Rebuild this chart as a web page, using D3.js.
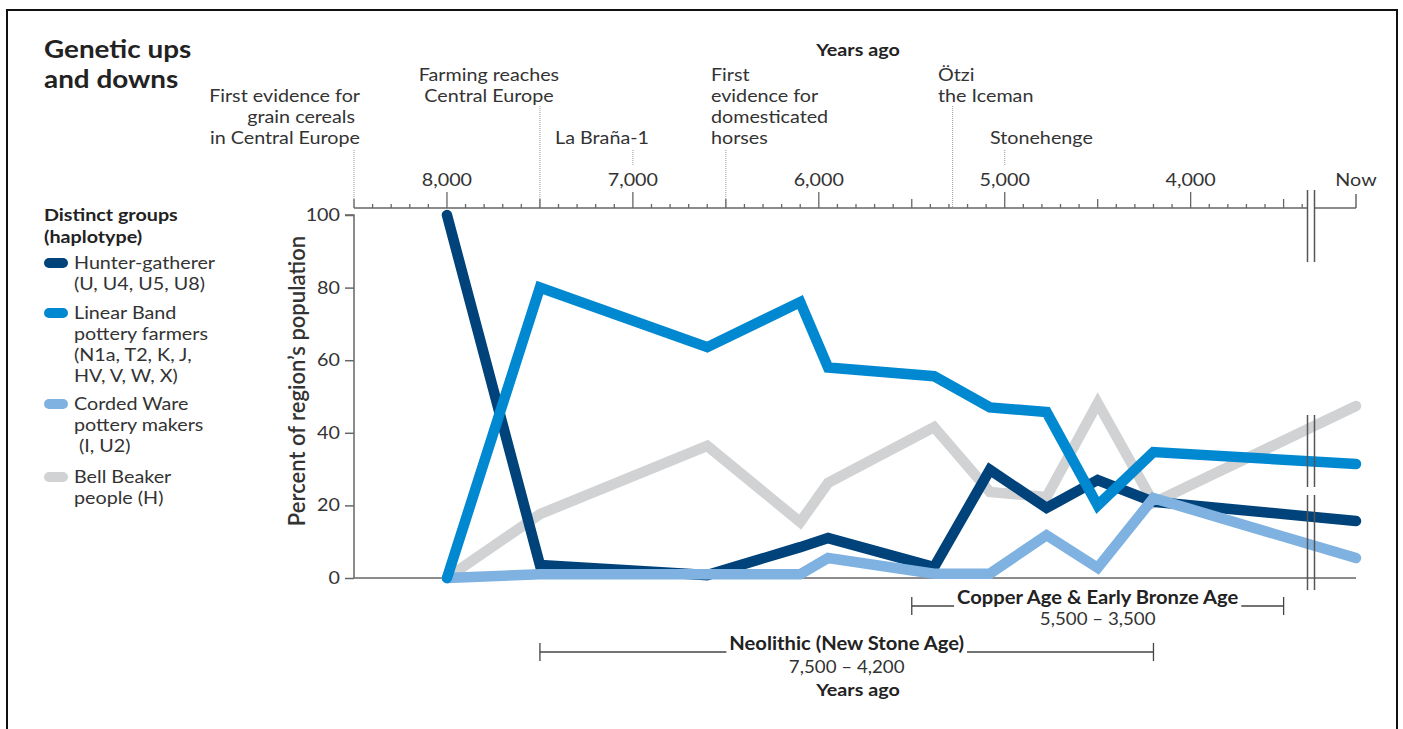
<!DOCTYPE html>
<html><head><meta charset="utf-8">
<script src="https://cdn.jsdelivr.net/npm/d3@7"></script>
<style>
body{margin:0;background:#fff;}
text{font-family:Lato,"Open Sans",sans-serif;}
</style>
</head><body>
<svg id="c" width="1403" height="729"></svg>
<script>
// ---------- DATA ----------
const yearsAgo = [8000, 7500, 6600, 6100, 5950, 5380, 5080, 4775, 4500, 4200, 0]; // 0 = Now
const hunterGatherer = [100, 3.6, 0.8, 8.5, 11, 3, 29.8, 19.3, 27, 21, 15.7];
const linearBand     = [0, 80, 63.6, 76, 58, 55.6, 47, 45.7, 20, 34.7, 31.4];
const cordedWare     = [0, 1, 1, 1, 5.5, 1.2, 1.2, 11.8, 2.8, 22, 5.5];
const bellBeaker     = [0, 17.6, 36.4, 15.4, 26.2, 41.6, 23.7, 22.3, 48.2, 20.7, 47.4];

const seriesKeys   = ["bellBeaker", "hunterGatherer", "cordedWare", "linearBand"]; // draw order
const seriesColors = {hunterGatherer:"#00427a", linearBand:"#0088d1", cordedWare:"#7fb2e1", bellBeaker:"#d1d2d4"};
const seriesValues = {hunterGatherer, linearBand, cordedWare, bellBeaker};

const legendItems = [
  {key:"hunterGatherer", lines:["Hunter-gatherer","(U, U4, U5, U8)"]},
  {key:"linearBand", lines:["Linear Band","pottery farmers","(N1a, T2, K, J,","HV, V, W, X)"]},
  {key:"cordedWare", lines:["Corded Ware","pottery makers","\u00a0(I, U2)"]},
  {key:"bellBeaker", lines:["Bell Beaker","people (H)"]}
];

const yTicks = [0, 20, 40, 60, 80, 100];
const xTickYears  = [8000, 7000, 6000, 5000, 4000];
const xTickLabels = ["8,000", "7,000", "6,000", "5,000", "4,000"];

const events = [
  {year:8500, lines:["First evidence for","grain cereals","in Central Europe"], anchor:"end"},
  {year:7500, lines:["Farming reaches","Central Europe"], anchor:"middle"},
  {year:7000, lines:["La Braña-1"], anchor:"middle"},
  {year:6500, lines:["First","evidence for","domesticated","horses"], anchor:"start"},
  {year:5280, lines:["Ötzi","the Iceman"], anchor:"start"},
  {year:5000, lines:["Stonehenge"], anchor:"start"}
];

const periods = [
  {name:"Copper Age & Early Bronze Age", range:"5,500 – 3,500", from:5500, to:3500},
  {name:"Neolithic (New Stone Age)", range:"7,500 – 4,200", from:7500, to:4200}
];

// ---------- LAYOUT ----------
const svg = d3.select("#c");
const plotTop = 215, plotBottom = 578, topAxisY = 208;
const x = d3.scaleLinear().domain([8500, 3350, 0]).range([354, 1311.5, 1356]);
const y = d3.scaleLinear().domain([0, 100]).range([plotBottom, plotTop]);
const axisCol = "#666", textCol = "#333";
const STRETCH = 1.16;
function stretch(sel, f) {
  sel.each(function(){
    const w = this.getComputedTextLength();
    d3.select(this).attr("textLength", w*(f||STRETCH)).attr("lengthAdjust","spacingAndGlyphs");
  });
  return sel;
}

// frame
svg.append("rect").attr("x",7).attr("y",10).attr("width",1390).attr("height",730)
  .attr("fill","none").attr("stroke","#111").attr("stroke-width",2);

// title
svg.append("text").attr("x",44).attr("y",50).attr("dy","0.35em").attr("font-size",24).attr("font-weight",700).attr("fill","#222").text("Genetic ups");
svg.append("text").attr("x",44).attr("y",80).attr("dy","0.35em").attr("font-size",24).attr("font-weight",700).attr("fill","#222").text("and downs");

// top "Years ago"
svg.append("text").attr("x",858).attr("y",50).attr("dy","0.35em").attr("text-anchor","middle")
  .attr("font-size",17).attr("font-weight",700).attr("fill","#222").text("Years ago");

// event annotations
const evLayout = {
  8500:{tx:360, ty:96, dash:[150, topAxisY]},
  7500:{tx:489, ty:75, dash:[106, topAxisY]},
  7000:{tx:602, ty:138, dash:[150, 166]},
  6500:{tx:711, ty:75, dash:[150, topAxisY]},
  5280:{tx:938, ty:75, dash:[106, topAxisY]},
  5000:{tx:990, ty:138, dash:[150, 166]}
};
events.forEach(ev => {
  const L = evLayout[ev.year];
  const g = svg.append("g");
  ev.lines.forEach((ln,i) => {
    g.append("text").attr("x", L.tx - (ev.year===8500 && i===1 ? 5 : 0)).attr("y", L.ty + i*21).attr("dy","0.35em")
      .attr("text-anchor", ev.anchor).attr("font-size",17).attr("fill",textCol).text(ln);
  });
  g.append("line").attr("x1",x(ev.year)).attr("x2",x(ev.year)).attr("y1",L.dash[0]).attr("y2",L.dash[1])
    .attr("stroke","#999").attr("stroke-width",1).attr("stroke-dasharray","1,1");
});

// top axis
const breakX1 = 1307.5, breakX2 = 1314.5;
svg.append("line").attr("x1",x(8500)).attr("x2",breakX1).attr("y1",topAxisY).attr("y2",topAxisY).attr("stroke",axisCol).attr("stroke-width",1.5);
svg.append("line").attr("x1",breakX2).attr("x2",x(0)).attr("y1",topAxisY).attr("y2",topAxisY).attr("stroke",axisCol).attr("stroke-width",1.5);
d3.range(8500, 3399, -100).forEach(yr => {
  const len = yr % 1000 === 0 ? 16 : (yr % 500 === 0 ? 9 : 4);
  svg.append("line").attr("x1",x(yr)).attr("x2",x(yr)).attr("y1",topAxisY).attr("y2",topAxisY-len)
    .attr("stroke",axisCol).attr("stroke-width",1.3);
});
xTickYears.forEach((yr,i) => {
  svg.append("text").attr("x",x(yr)).attr("y",180).attr("dy","0.35em").attr("text-anchor","middle")
    .attr("font-size",17).attr("fill",textCol).text(xTickLabels[i]);
});
svg.append("line").attr("x1",x(0)).attr("x2",x(0)).attr("y1",topAxisY).attr("y2",topAxisY-14).attr("stroke",axisCol).attr("stroke-width",1.5);
svg.append("text").attr("x",x(0)).attr("y",180).attr("dy","0.35em").attr("text-anchor","middle")
  .attr("font-size",17).attr("fill",textCol).text("Now");

// y axis
const yAxis = svg.append("g").attr("transform",`translate(${x(8500)},0)`)
  .call(d3.axisLeft(y).tickValues(yTicks).tickSize(9).tickPadding(5).tickFormat(d3.format("d")));
yAxis.select(".domain").attr("stroke",axisCol).attr("stroke-width",1.5).attr("d",`M-9,${plotTop}H0V${plotBottom}`);
yAxis.selectAll(".tick line").attr("stroke",axisCol).attr("stroke-width",1.5);
yAxis.selectAll(".tick text").attr("font-size",17).attr("fill",textCol).attr("font-family","Lato");
svg.append("text").attr("class","norot").attr("transform",`translate(297,381) rotate(-90)`).attr("text-anchor","middle")
  .attr("dy","0.35em").attr("font-size",22).attr("font-weight",600).attr("fill","#333").text("Percent of region\u2019s population");

// bottom axis line
svg.append("line").attr("x1",x(8500)).attr("x2",x(0)).attr("y1",plotBottom).attr("y2",plotBottom).attr("stroke",axisCol).attr("stroke-width",1.5);

// series
const line = d3.line().x((d,i) => x(yearsAgo[i])).y(d => y(d));
seriesKeys.forEach(k => {
  svg.append("path").datum(seriesValues[k]).attr("d", line).attr("fill","none")
    .attr("stroke", seriesColors[k]).attr("stroke-width",10.5)
    .attr("stroke-linecap","round").attr("stroke-linejoin","miter").attr("stroke-miterlimit",3);
});

// axis break marks
[[190,262],[415,487],[495,590]].forEach(([a,b]) => {
  [breakX1, breakX2].forEach(bx => {
    svg.append("line").attr("x1",bx).attr("x2",bx).attr("y1",a).attr("y2",b).attr("stroke","#555").attr("stroke-width",1.5);
  });
});

// legend
svg.append("text").attr("x",44).attr("y",215).attr("dy","0.35em").attr("font-size",17).attr("font-weight",700).attr("fill","#222").text("Distinct groups");
svg.append("text").attr("x",44).attr("y",237).attr("dy","0.35em").attr("font-size",17).attr("font-weight",700).attr("fill","#222").text("(haplotype)");
const legendTops = [263, 313, 404, 477];
legendItems.forEach((it,i) => {
  const ty = legendTops[i];
  svg.append("rect").attr("x",44).attr("y",ty-5).attr("width",24).attr("height",10).attr("rx",5)
    .attr("fill",seriesColors[it.key]);
  it.lines.forEach((ln,j) => {
    svg.append("text").attr("x",74).attr("y",ty + j*21).attr("dy","0.35em").attr("font-size",17).attr("fill",textCol).text(ln);
  });
});

// Years ago (bottom)
svg.append("text").attr("x",858).attr("y",690).attr("dy","0.35em").attr("text-anchor","middle")
  .attr("font-size",17).attr("font-weight",700).attr("fill","#222").text("Years ago");

// stretch all horizontal texts to match the reference proportions
stretch(svg.selectAll("text:not(.norot)"));

// period brackets
const periodLayout = [{ly:606, ty:598, ry:619},{ly:652, ty:644, ry:667}];
periods.forEach((p,i) => {
  const L = periodLayout[i];
  const x1 = x(p.from), x2 = x(p.to), cx = (x1+x2)/2;
  svg.append("line").attr("x1",x1).attr("x2",x2).attr("y1",L.ly).attr("y2",L.ly).attr("stroke","#444").attr("stroke-width",1.3);
  [x1,x2].forEach(xx => svg.append("line").attr("x1",xx).attr("x2",xx).attr("y1",L.ly-9).attr("y2",L.ly+9).attr("stroke","#444").attr("stroke-width",1.3));
  const t = svg.append("text").attr("x",cx).attr("y",L.ty).attr("dy","0.35em").attr("text-anchor","middle")
    .attr("font-size",18).attr("font-weight",700).attr("fill","#222").text(p.name);
  stretch(t, 1.12);
  const w = +t.attr("textLength");
  const bb = t.node().getBBox();
  svg.insert("rect", () => t.node()).attr("x",cx - w/2 - 3).attr("y",bb.y).attr("width",w+6).attr("height",bb.height).attr("fill","#fff");
  const r = svg.append("text").attr("x",cx).attr("y",L.ry).attr("dy","0.35em").attr("text-anchor","middle")
    .attr("font-size",17).attr("fill",textCol).text(p.range);
  stretch(r, 1.1);
});
</script>
</body></html>
